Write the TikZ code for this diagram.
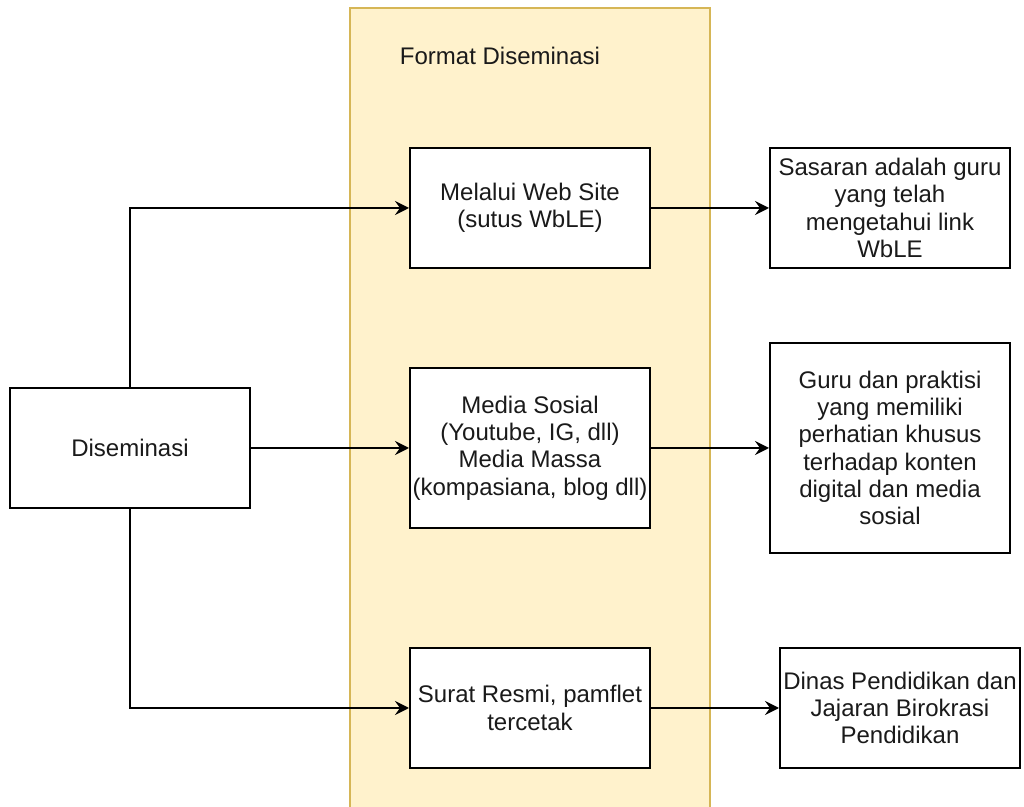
\documentclass[tikz,border=0pt]{standalone}
\usepackage{fontspec}
\setmainfont{Liberation Sans}
\usetikzlibrary{arrows.meta}
\definecolor{bandfill}{HTML}{FFF2CC}
\definecolor{bandline}{HTML}{D6B656}
\definecolor{ink}{HTML}{1A1A1A}
\begin{document}
\begin{tikzpicture}[x=0.5pt,y=-0.5pt,
  box/.style={draw=black,line width=1pt,fill=white,inner sep=0pt,
    minimum width=120pt,minimum height=60pt,align=center,text=ink,
    font=\fontsize{12pt}{13.6pt}\selectfont},
  link/.style={draw=black,line width=1pt,-{Stealth[length=7pt,width=7pt,inset=2.5pt]}},
  label/.style={text=ink,inner sep=0pt,font=\fontsize{12pt}{13.6pt}\selectfont}]
  \useasboundingbox (0,0) rectangle (1024,807);
  \clip (0,0) rectangle (1024,807);
  % swimlane band
  \fill[bandfill] (350,8) rectangle (710,830);
  \draw[bandline,line width=1pt] (350,830) -- (350,8) -- (710,8) -- (710,830);
  \node[label] (title) at (500,56) {Format Diseminasi};
  % source
  \node[box] (dis) at (130,448) {Diseminasi};
  % channels
  \node[box] (m1) at (530,208) {Melalui Web Site\\(sutus WbLE)};
  \node[box,minimum height=80pt] (m2) at (530,448)
    {Media Sosial\\(Youtube, IG, dll)\\Media Massa\\(kompasiana, blog dll)};
  \node[box] (m3) at (530,708) {Surat Resmi, pamflet\\tercetak};
  % audiences
  \node[box] (r1) at (890,208) {Sasaran adalah guru\\yang telah\\mengetahui link\\WbLE};
  \node[box,minimum height=105pt] (r2) at (890,448)
    {Guru dan praktisi\\yang memiliki\\perhatian khusus\\terhadap konten\\digital dan media\\sosial};
  \node[box] (r3) at (900,708) {Dinas Pendidikan dan\\Jajaran Birokrasi\\Pendidikan};
  % connectors
  \draw[link] (dis.north) |- (m1.west);
  \draw[link] (dis.east) -- (m2.west);
  \draw[link] (dis.south) |- (m3.west);
  \draw[link] (m1.east) -- (r1.west);
  \draw[link] (m2.east) -- (r2.west);
  \draw[link] (m3.east) -- (r3.west);
\end{tikzpicture}
\end{document}
